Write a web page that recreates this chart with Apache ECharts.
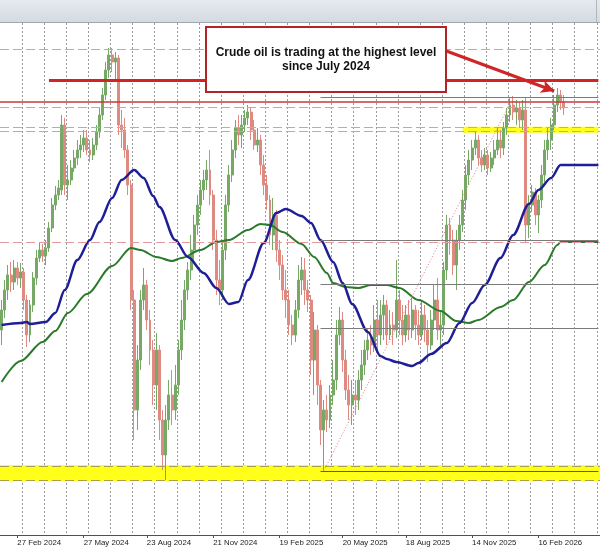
<!DOCTYPE html>
<html><head><meta charset="utf-8">
<script src="https://cdn.jsdelivr.net/npm/echarts@6/dist/echarts.min.js"></script>
<style>html,body{margin:0;padding:0;background:#fff}#c{width:600px;height:547px}</style>
</head><body><div id="c"></div>
<script>
// ---- data ----
const tickLabels = ['27 Feb 2024','27 May 2024','23 Aug 2024','21 Nov 2024','19 Feb 2025','20 May 2025','18 Aug 2025','14 Nov 2025','16 Feb 2026'];
const tickSlots = [5,26,46,67,88,108,128,149,170];
const slotCount = 190;
const gridEvery = 7;
// [open, close, low, high]
const candles = [
[62.0,64.0,60.5,65.0],[64.0,66.0,63.2,67.0],[66.0,67.5,65.0,68.5],[67.5,66.8,65.8,68.8],[66.8,68.2,66.0,69.0],
[68.2,67.2,66.5,68.8],[67.2,67.8,66.2,68.7],[67.8,65.0,64.0,68.2],[65.0,61.5,60.3,65.5],[61.5,64.5,60.8,65.0],
[64.5,67.2,63.8,67.8],[67.2,69.2,66.5,70.0],[69.2,70.0,68.8,70.8],[70.0,69.4,68.8,70.6],[69.4,70.2,68.5,71.0],
[70.2,72.2,69.8,72.8],[72.2,74.5,71.8,75.2],[74.5,75.5,74.0,76.4],[75.5,76.2,75.0,77.0],[76.0,82.5,75.5,83.5],
[82.5,76.5,75.5,83.2],[76.5,77.0,75.0,78.5],[77.0,78.2,76.5,79.0],[78.2,79.2,77.8,80.0],[79.2,80.0,78.5,81.0],
[80.0,80.5,79.2,81.5],[80.5,81.2,79.8,82.0],[81.2,80.0,79.5,82.0],[80.0,79.5,78.8,81.0],[79.5,80.5,79.0,81.2],
[80.5,81.8,80.0,82.5],[81.8,83.5,81.2,84.2],[83.5,85.5,83.0,86.2],[85.5,88.0,85.0,88.8],[88.0,89.5,87.2,90.2],
[89.5,88.8,87.8,90.2],[88.8,89.2,87.0,89.8],[89.2,82.5,81.5,89.5],[82.5,82.0,80.2,84.0],[82.0,80.0,79.2,83.2],
[80.0,76.5,75.5,80.5],[76.5,65.0,64.0,77.0],[65.0,54.0,51.0,66.0],[54.0,59.0,52.0,60.5],[59.0,65.0,58.0,66.0],
[65.0,66.5,64.0,68.2],[66.5,63.0,62.0,67.0],[63.0,60.0,58.5,64.0],[60.0,56.5,54.5,61.0],[56.5,60.0,54.0,61.7],
[60.0,53.0,51.0,60.5],[53.0,49.5,48.0,54.0],[49.5,53.0,47.0,54.5],[53.0,55.5,52.0,57.0],[55.5,54.0,52.5,58.0],
[54.0,56.5,53.0,58.5],[56.5,60.0,55.5,61.0],[60.0,63.0,59.0,65.0],[63.0,66.0,62.0,67.0],[66.0,68.0,65.0,68.8],
[68.0,70.0,67.0,71.5],[70.0,72.5,68.8,73.5],[72.5,74.5,71.5,75.5],[74.5,76.0,73.5,77.0],[76.0,77.0,75.0,78.0],
[77.0,78.0,76.0,79.0],[78.0,75.5,74.5,80.0],[75.5,71.0,70.0,76.0],[71.0,67.0,65.5,72.0],[67.0,66.0,64.5,69.0],
[66.0,70.0,65.0,71.0],[70.0,74.5,69.0,75.5],[74.5,77.5,73.8,78.5],[77.5,80.0,76.8,81.0],[80.0,82.2,79.2,83.0],
[82.2,81.5,80.5,83.5],[81.5,82.5,80.2,83.5],[82.5,83.2,81.8,84.0],[83.2,83.8,82.5,84.5],[83.8,82.0,81.0,84.2],
[82.0,80.5,80.0,83.0],[80.5,81.0,79.8,82.2],[81.0,78.5,77.5,81.5],[78.5,76.5,75.5,79.5],[76.5,75.0,74.0,77.5],
[75.0,71.5,70.5,75.5],[71.5,73.5,70.0,75.2],[73.5,70.0,68.8,74.0],[70.0,68.5,67.0,71.0],[68.5,66.0,65.0,69.5],
[66.0,65.0,63.2,68.0],[65.0,62.5,61.5,66.0],[62.5,61.5,60.5,63.5],[61.5,64.0,60.8,65.0],[64.0,67.0,63.2,68.5],
[67.0,68.0,65.5,69.3],[68.0,66.0,64.5,69.2],[66.0,65.0,63.8,67.0],[65.0,59.0,57.5,65.5],[59.0,62.0,55.5,63.8],
[62.0,56.5,54.5,62.5],[56.5,52.0,50.5,57.0],[52.0,54.0,48.0,55.0],[54.0,53.0,51.8,55.5],[53.0,55.5,52.2,56.5],
[55.5,57.0,54.5,59.0],[57.0,61.5,56.0,63.0],[61.5,63.0,60.5,64.3],[63.0,59.0,57.8,63.8],[59.0,56.0,55.0,60.0],
[56.0,54.5,53.0,57.5],[54.5,55.5,52.5,57.0],[55.5,55.0,53.5,57.0],[55.0,57.0,54.0,58.0],[57.0,58.5,56.0,60.0],
[58.5,60.0,57.5,61.0],[60.0,61.0,59.0,62.2],[61.0,60.5,59.5,62.5],[60.5,63.0,59.8,64.5],[63.0,61.5,60.0,65.0],
[61.5,63.5,60.5,65.0],[63.5,64.5,61.0,65.5],[64.5,61.5,60.5,65.0],[61.5,62.5,61.0,64.0],[62.5,62.0,60.5,63.8],
[62.0,65.0,61.2,69.0],[65.0,63.0,61.5,66.0],[63.0,61.5,60.5,64.5],[61.5,63.5,60.8,64.5],[63.5,62.0,61.0,65.0],
[62.0,64.0,61.2,65.2],[64.0,62.5,61.0,64.5],[62.5,61.5,60.5,64.0],[61.5,63.5,61.0,65.0],[63.5,62.0,60.8,64.5],
[62.0,60.5,58.8,63.0],[60.5,63.0,60.0,64.0],[63.0,65.0,62.0,66.5],[65.0,62.0,61.0,67.2],[62.0,62.5,60.5,64.0],
[62.5,68.0,61.5,68.8],[68.0,72.5,67.0,73.5],[72.5,71.0,69.5,73.2],[71.0,68.5,67.5,72.0],[68.5,71.0,66.0,72.0],
[71.0,72.5,70.0,73.5],[72.5,75.0,71.8,76.0],[75.0,77.5,74.0,78.5],[77.5,79.0,76.5,80.0],[79.0,80.2,78.0,81.0],
[80.2,81.0,79.5,81.8],[81.0,79.2,78.5,81.5],[79.2,78.5,77.8,80.0],[78.5,79.5,78.0,80.2],[79.5,78.2,77.5,80.0],
[78.2,79.2,77.8,79.8],[79.2,80.0,78.5,81.0],[80.0,81.0,79.5,82.2],[81.0,80.2,79.2,82.0],[80.2,82.2,79.5,82.8],
[82.2,83.5,81.5,84.2],[83.5,84.5,82.8,85.2],[84.5,83.8,83.0,85.4],[83.8,84.2,82.5,85.0],[84.2,83.0,82.2,84.8],
[83.0,84.0,82.0,85.0],[84.0,72.5,70.8,85.2],[72.5,74.5,71.2,75.5],[74.5,75.8,73.8,76.5],[75.8,73.5,72.5,76.2],
[73.5,75.0,71.7,75.5],[75.0,77.5,74.2,78.5],[77.5,80.0,76.8,81.0],[80.0,81.0,79.0,82.2],[81.0,82.5,80.0,83.2],
[82.5,84.5,82.0,85.5],[84.5,85.5,83.8,86.2],[85.5,84.8,84.0,86.0],[84.8,84.2,83.5,85.5]
];
// moving averages: [slot, value]
const maBlue = [[0,62.5],[6,62.7],[8,62.8],[9,62.6],[14,62.8],[17,63.7],[20,66.0],[24,69.0],[28,71.0],[31,72.8],[35,75.2],[38,77.0],[42,78.0],[45,77.2],[48,75.4],[50,74.3],[55,71.0],[59,69.3],[64,67.7],[68,66.2],[72,64.6],[75,64.8],[78,67.0],[83,70.7],[87,73.7],[90,74.1],[95,73.4],[98,72.7],[101,71.0],[105,68.8],[108,66.7],[111,64.6],[116,61.8],[120,59.4],[122,59.1],[125,58.8],[130,58.4],[132,58.7],[136,59.6],[141,60.7],[145,62.7],[149,64.7],[153,66.5],[158,69.2],[162,71.5],[167,74.6],[170,76.0],[174,77.2],[177,78.5],[189,78.5]];
const maGreen = [[0,56.8],[6,58.9],[13,60.8],[17,61.9],[21,63.7],[27,65.6],[35,68.4],[41,70.2],[44,70.0],[49,69.3],[54,68.9],[57,69.2],[63,70.0],[68,70.8],[72,71.0],[78,72.0],[82,72.6],[85,72.5],[89,71.8],[95,70.6],[99,69.3],[103,67.7],[105,66.7],[109,66.3],[113,66.2],[117,66.5],[122,66.5],[126,66.2],[132,65.0],[139,63.9],[144,62.9],[148,62.7],[151,63.0],[158,64.3],[162,65.0],[167,66.8],[172,68.5],[176,70.5],[177,70.8],[189,70.8]];
// horizontal levels
const dashedLevels = [90.1, 84.25, 82.25, 81.88, 70.8];
const solidLevel = 84.83;
const keyLevel = 87.0;
const keyLevelFrom = 15;
const fibLevels = [85.3, 71.0, 66.6, 62.2, 47.9];
const fibFrom = 101;
const fibDiagonal = [[102, 47.9], [162, 85.3]];
const upperZone = [82.33, 81.73];
const upperZoneFrom = 146;
const lowerZone = [48.5, 46.9];
const lowerZoneEdges = [48.4, 47.0];
const arrowPts = [[140, 90.0], [175, 85.9]];
const noteText = 'Crude oil is trading at the highest level\nsince July 2024';

// ---- chart ----
const lastSlot = slotCount - 1;
const cats = Array.from({length: slotCount}, (_, i) => 'b' + i);
const chart = echarts.init(document.getElementById('c'), null, {renderer: 'canvas'});

const red = '#d12424';
const lines = [];
dashedLevels.forEach(v => lines.push({yAxis: v, lineStyle: {color: '#e39a9a', width: 1.2, type: [9, 4]}}));
lines.push({yAxis: solidLevel, lineStyle: {color: '#c8383a', width: 1.5, type: 'solid'}});
lowerZoneEdges.forEach(v => lines.push({yAxis: v, lineStyle: {color: '#aaa048', width: 1.2, type: [9, 4]}}));
fibLevels.forEach((v, k) => {
  const st = {color: k === 4 ? '#5e5e36' : '#7b7b7b', width: 1, type: 'solid'};
  lines.push([{coord: [fibFrom, v], lineStyle: st}, {coord: [lastSlot, v], lineStyle: st}]);
});
const dotSt = {color: '#e07a7a', width: 1, type: [1, 2]};
lines.push([{coord: fibDiagonal[0], lineStyle: dotSt}, {coord: fibDiagonal[1], lineStyle: dotSt}]);
const keySt = {color: red, width: 3, type: 'solid'};
lines.push([{coord: [keyLevelFrom, keyLevel], lineStyle: keySt}, {coord: [lastSlot, keyLevel], lineStyle: keySt}]);
const arrSt = {color: red, width: 3, type: 'solid'};
lines.push([{coord: arrowPts[0], lineStyle: arrSt, symbol: 'none'}, {coord: arrowPts[1], lineStyle: arrSt, symbol: 'arrow', symbolSize: [10, 13]}]);

chart.setOption({
  animation: false,
  backgroundColor: '#ffffff',
  grid: {left: -1.2, right: -1.3, top: 23, bottom: 12, containLabel: false},
  xAxis: [{
    type: 'category', data: cats, boundaryGap: true,
    axisLine: {show: true, lineStyle: {color: '#505050', width: 1}},
    axisTick: {show: true, alignWithLabel: true, length: 3, interval: (i) => tickSlots.includes(i), lineStyle: {color: '#505050'}},
    axisLabel: {show: true, interval: (i) => tickSlots.includes(i), formatter: (v, i) => tickLabels[tickSlots.indexOf(i)] || '',
      align: 'left', margin: 4, fontSize: 7.8, color: '#222', fontFamily: '"Liberation Sans", Arial, sans-serif'},
    splitLine: {show: false}
  }, {
    type: 'value', min: 0, max: slotCount, interval: gridEvery, position: 'bottom', show: true,
    axisLine: {show: false}, axisTick: {show: false}, axisLabel: {show: false},
    splitLine: {show: true, showMinLine: false, showMaxLine: false, lineStyle: {color: '#9a9a9a', width: 1, type: [2, 2]}}
  }],
  yAxis: {type: 'value', min: 41.5, max: 92.7, show: false, splitLine: {show: false}},
  series: [
    {type: 'line', data: [], z: 1, silent: true,
      markArea: {silent: true, itemStyle: {color: '#ffff1a'},
        data: [[{coord: [upperZoneFrom, upperZone[0]]}, {coord: [lastSlot, upperZone[1]]}],
               [{yAxis: lowerZone[0]}, {yAxis: lowerZone[1]}]]}},
    {type: 'candlestick', data: candles, z: 2, barWidth: 2.4,
      itemStyle: {color: '#76a866', color0: '#de8a80', borderColor: '#76a866', borderColor0: '#de8a80', borderWidth: 1}},
    {type: 'line', data: maGreen, z: 3, smooth: 0.3, smoothMonotone: 'x', showSymbol: false, lineStyle: {color: '#2a7a2a', width: 2}},
    {type: 'line', data: maBlue, z: 3, smooth: 0.3, smoothMonotone: 'x', showSymbol: false, lineStyle: {color: '#1e1e96', width: 2.5}},
    {type: 'line', data: [], z: 4, silent: true,
      markLine: {silent: true, symbol: ['none', 'none'], label: {show: false}, animation: false, data: lines}}
  ],
  graphic: [
    {type: 'rect', z: 100, shape: {x: 0, y: 0, width: 600, height: 22.5},
      style: {fill: new echarts.graphic.LinearGradient(0, 0, 0, 1, [{offset: 0, color: '#e6eaef'}, {offset: 1, color: '#d4dae1'}])}},
    {type: 'line', z: 101, shape: {x1: 0, y1: 22.5, x2: 600, y2: 22.5}, style: {stroke: '#9fa7b0', lineWidth: 1}},
    {type: 'line', z: 101, shape: {x1: 596.5, y1: 0, x2: 596.5, y2: 22}, style: {stroke: '#b0b7c0', lineWidth: 1}},
    {type: 'rect', z: 100, shape: {x: 206, y: 27, width: 240, height: 65},
      style: {fill: '#ffffff', stroke: '#b3232a', lineWidth: 2}},
    {type: 'text', z: 101, style: {text: noteText, x: 326, y: 59.5, align: 'center', verticalAlign: 'middle',
      font: 'bold 12px "Liberation Sans", Arial, sans-serif', fill: '#111', lineHeight: 13.5}}
  ]
});
</script>
</body></html>
